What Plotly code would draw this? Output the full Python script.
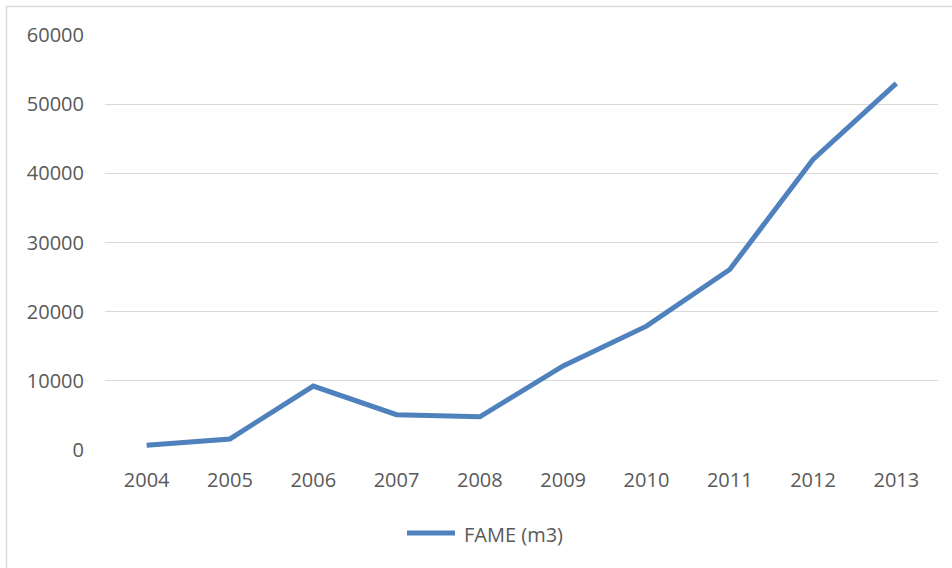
import plotly.graph_objects as go

years = ["2004", "2005", "2006", "2007", "2008", "2009", "2010", "2011", "2012", "2013"]
fame = [700, 1600, 9250, 5100, 4800, 12150, 17900, 26100, 42000, 53000]
y_ticks = [0, 10000, 20000, 30000, 40000, 50000, 60000]
series_name = "FAME (m3)"

W, H = 952, 568
L, R, T, B = 105, 14, 35, 118
pw = W - L - R
ph = H - T - B
LINE_COLOR = "#4F81BD"
TEXT_COLOR = "#595959"

fig = go.Figure()
fig.add_trace(go.Scatter(
    x=list(range(len(years))), y=fame, mode="lines", name=series_name,
    line=dict(color=LINE_COLOR, width=5), showlegend=False,
))

def px_to_paper_x(px):
    return (px - L) / pw

def px_to_paper_y(py):
    return (H - B - py) / ph

fig.update_layout(
    width=W, height=H,
    margin=dict(l=L, r=R, t=T, b=B),
    paper_bgcolor="white", plot_bgcolor="white",
    font=dict(family="Open Sans", size=20, color=TEXT_COLOR),
    showlegend=False,
    xaxis=dict(range=[-0.5, len(years) - 0.5], tickmode="array",
               tickvals=list(range(len(years))), ticktext=years,
               showgrid=False, zeroline=False, showline=False, ticks="",
               ticklabelstandoff=16),
    yaxis=dict(range=[0, 60000], tickmode="array", tickvals=y_ticks,
               ticktext=[str(v) for v in y_ticks],
               showgrid=True, gridcolor="#D9D9D9", gridwidth=1.2,
               zeroline=False, showline=False, ticks="",
               ticklabelstandoff=20),
    shapes=[
        dict(type="line", xref="paper", yref="paper",
             x0=px_to_paper_x(6.5), x1=px_to_paper_x(6.5),
             y0=px_to_paper_y(6), y1=px_to_paper_y(570),
             line=dict(color="#D9D9D9", width=1.5)),
        dict(type="line", xref="paper", yref="paper",
             x0=px_to_paper_x(6), x1=px_to_paper_x(960),
             y0=px_to_paper_y(6.5), y1=px_to_paper_y(6.5),
             line=dict(color="#D9D9D9", width=1.5)),
        # legend sample line
        dict(type="line", xref="paper", yref="paper",
             x0=px_to_paper_x(407), x1=px_to_paper_x(455),
             y0=px_to_paper_y(533), y1=px_to_paper_y(533),
             line=dict(color=LINE_COLOR, width=5)),
    ],
    annotations=[
        dict(text=series_name, xref="paper", yref="paper",
             x=px_to_paper_x(462), y=px_to_paper_y(534),
             xanchor="left", yanchor="middle", showarrow=False,
             font=dict(size=20, color=TEXT_COLOR)),
    ],
)

fig.write_html("out.html")
